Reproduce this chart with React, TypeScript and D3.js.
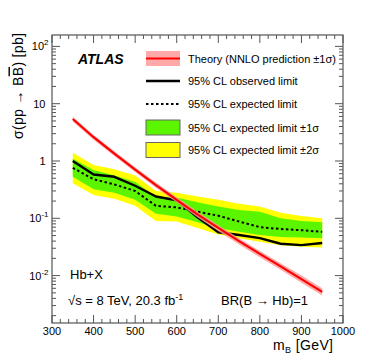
import React from 'react';
import * as d3 from 'd3';

// signal mass points [GeV]
const masses = [350, 400, 450, 500, 550, 600, 650, 700, 750, 800, 850, 900, 950];

// 95% CL limits [pb]
const observed = [1.0, 0.58, 0.53, 0.37, 0.24, 0.205, 0.104, 0.057, 0.051, 0.045, 0.036, 0.034, 0.037];
const expected = [0.76, 0.48, 0.39, 0.30, 0.165, 0.155, 0.13, 0.111, 0.088, 0.07, 0.065, 0.062, 0.058];
const expPlus1 = [1.10, 0.70, 0.56, 0.43, 0.24, 0.23, 0.19, 0.16, 0.14, 0.13, 0.10, 0.09, 0.085];
const expMinus1 = [0.53, 0.32, 0.28, 0.21, 0.12, 0.107, 0.085, 0.067, 0.058, 0.051, 0.047, 0.046, 0.045];
const expPlus2 = [1.40, 0.85, 0.72, 0.56, 0.30, 0.28, 0.24, 0.21, 0.18, 0.16, 0.125, 0.11, 0.10];
const expMinus2 = [0.41, 0.255, 0.22, 0.165, 0.09, 0.088, 0.068, 0.052, 0.045, 0.039, 0.034, 0.032, 0.031];

// NNLO theory with its +-1 sigma band [pb]
const theory = [5.4, 2.6, 1.35, 0.71, 0.38, 0.21, 0.117, 0.068, 0.040, 0.024, 0.0145, 0.0087, 0.0052];
const theoryHi = [5.9, 2.85, 1.48, 0.78, 0.42, 0.232, 0.13, 0.076, 0.045, 0.027, 0.0165, 0.0100, 0.0060];
const theoryLo = [4.9, 2.35, 1.22, 0.64, 0.34, 0.188, 0.104, 0.060, 0.035, 0.021, 0.0127, 0.0075, 0.0045];

const xTickValues = [300, 400, 500, 600, 700, 800, 900, 1000];
const yDecades = [-2, -1, 0, 1, 2];
const yTickLabels: [string, string][] = [['10', '-2'], ['10', '-1'], ['1', ''], ['10', ''], ['10', '2']];

const FONT = 'Liberation Sans, Arial, Helvetica, sans-serif';
const W = 374;
const H = 359;
const frame = { left: 52, right: 343, top: 35, bottom: 323 };

export default function App() {
  const x = d3.scaleLinear().domain([300, 1000]).range([frame.left, frame.right]);
  // 1 pb at y=161, one decade = 57.3px
  const y = d3.scaleLog()
    .domain([Math.pow(10, -(frame.bottom - 161) / 57.3), Math.pow(10, (161 - frame.top) / 57.3)])
    .range([frame.bottom, frame.top]);

  const idx = masses.map((_, i) => i);
  const band = (lo: number[], hi: number[]) =>
    d3.area<number>().x(i => x(masses[i])).y0(i => y(lo[i])).y1(i => y(hi[i]))(idx) || '';
  const line = (vals: number[]) =>
    d3.line<number>().x(i => x(masses[i])).y(i => y(vals[i]))(idx) || '';

  const tickColor = '#555';
  const ticks: JSX.Element[] = [];
  // x ticks (bottom and top)
  d3.range(300, 1001, 20).forEach((m) => {
    const major = m % 100 === 0;
    const len = major ? 8 : 4;
    const px = x(m);
    ticks.push(<line key={`xb${m}`} x1={px} x2={px} y1={frame.bottom} y2={frame.bottom - len} stroke={tickColor} />);
    ticks.push(<line key={`xt${m}`} x1={px} x2={px} y1={frame.top} y2={frame.top + len} stroke={tickColor} />);
  });
  // y ticks (left and right)
  const [yMin, yMax] = y.domain();
  d3.range(-3, 3).forEach((d) => {
    d3.range(1, 10).forEach((k) => {
      const v = k * Math.pow(10, d);
      if (v < yMin || v > yMax) return;
      const len = k === 1 ? 8 : 4;
      const py = y(v);
      ticks.push(<line key={`yl${d}_${k}`} x1={frame.left} x2={frame.left + len} y1={py} y2={py} stroke={tickColor} />);
      ticks.push(<line key={`yr${d}_${k}`} x1={frame.right} x2={frame.right - len} y1={py} y2={py} stroke={tickColor} />);
    });
  });

  const legendX0 = 146;
  const legendX1 = 180;
  const legendText = 188;
  const legend = [
    { label: 'Theory (NNLO prediction \u00b11\u03c3)', yc: 58.5, kind: 'theory' },
    { label: '95% CL observed limit', yc: 81, kind: 'obs' },
    { label: '95% CL expected limit', yc: 104, kind: 'exp' },
    { label: '95% CL expected limit \u00b11\u03c3', yc: 127.5, kind: 'g' },
    { label: '95% CL expected limit \u00b12\u03c3', yc: 150, kind: 'y' },
  ];

  return (
    <svg width={W} height={H} style={{ position: 'absolute', left: 0, top: 0, background: '#fff' }} fontFamily={FONT}>
      <rect x={0} y={0} width={W} height={H} fill="#fff" />

      {/* expected bands */}
      <path d={band(expMinus2, expPlus2)} fill="#ffff00" />
      <path d={band(expMinus1, expPlus1)} fill="#5cf500" />
      <path d={line(expected)} fill="none" stroke="#000" strokeWidth={2} strokeDasharray="2.5,2.5" />

      {/* observed */}
      <path d={line(observed)} fill="none" stroke="#000" strokeWidth={2.4} strokeLinejoin="round" />

      {/* theory */}
      <path d={band(theoryLo, theoryHi)} fill="#ff9a9a" fillOpacity={0.85} />
      <path d={line(theory)} fill="none" stroke="#ff0000" strokeWidth={2.2} />

      {/* frame and ticks */}
      <rect x={frame.left} y={frame.top} width={frame.right - frame.left} height={frame.bottom - frame.top}
        fill="none" stroke={tickColor} strokeWidth={1.2} />
      {ticks}

      {/* x tick labels */}
      {xTickValues.map(v => (
        <text key={`xl${v}`} x={x(v)} y={335} fontSize={11} textAnchor="middle" fill="#000">{v}</text>
      ))}
      {/* y tick labels */}
      {yDecades.map((d, i) => {
        const [base, sup] = yTickLabels[i];
        return (
          <text key={`yl${d}`} x={sup ? 48.5 : 45.5} y={y(Math.pow(10, d)) + 4} fontSize={11} textAnchor="end" fill="#000">
            {base}
            {sup && <tspan fontSize={8} dy={-5}>{sup}</tspan>}
          </text>
        );
      })}

      {/* axis titles */}
      <text x={333} y={350} fontSize={14} textAnchor="end" fill="#000" textLength={60} lengthAdjust="spacing">
        m<tspan fontSize={9} dy={3}>B</tspan><tspan dy={-3}> [GeV]</tspan>
      </text>
      <text transform="translate(22.5,33) rotate(-90)" fontSize={14} textAnchor="end" fill="#000"
        textLength={106} lengthAdjust="spacing">
        {'\u03c3(pp \u2192 B'}<tspan style={{ textDecoration: 'overline' }}>B</tspan>{') [pb]'}
      </text>

      {/* ATLAS label */}
      <text x={78} y={64} fontSize={14} fontWeight="bold" fontStyle="italic" fill="#000">ATLAS</text>

      {/* legend */}
      {legend.map(item => (
        <g key={item.label}>
          {item.kind === 'theory' && (
            <>
              <rect x={legendX0} y={item.yc - 7.5} width={legendX1 - legendX0} height={15} fill="#ff9a9a" fillOpacity={0.85} />
              <line x1={legendX0} x2={legendX1} y1={item.yc} y2={item.yc} stroke="#ff0000" strokeWidth={2.2} />
            </>
          )}
          {item.kind === 'obs' && (
            <line x1={legendX0} x2={legendX1} y1={item.yc} y2={item.yc} stroke="#000" strokeWidth={2.4} />
          )}
          {item.kind === 'exp' && (
            <line x1={legendX0} x2={legendX1} y1={item.yc} y2={item.yc} stroke="#000" strokeWidth={2} strokeDasharray="2.5,2.5" />
          )}
          {(item.kind === 'g' || item.kind === 'y') && (
            <rect x={legendX0} y={item.yc - 7.5} width={legendX1 - legendX0} height={15}
              fill={item.kind === 'g' ? '#5cf500' : '#ffff00'} stroke="#666" strokeWidth={1} />
          )}
          <text x={legendText} y={item.yc + 4} fontSize={11} fill="#000">{item.label}</text>
        </g>
      ))}

      {/* annotations */}
      <text x={70} y={279} fontSize={13} fill="#000">Hb+X</text>
      <text x={68} y={305} fontSize={13} fill="#000">
        {'\u221as = 8 TeV, 20.3 fb'}<tspan fontSize={9} dy={-5}>-1</tspan>
      </text>
      <text x={221} y={305} fontSize={13} fill="#000">{'BR(B \u2192 Hb)=1'}</text>
    </svg>
  );
}
